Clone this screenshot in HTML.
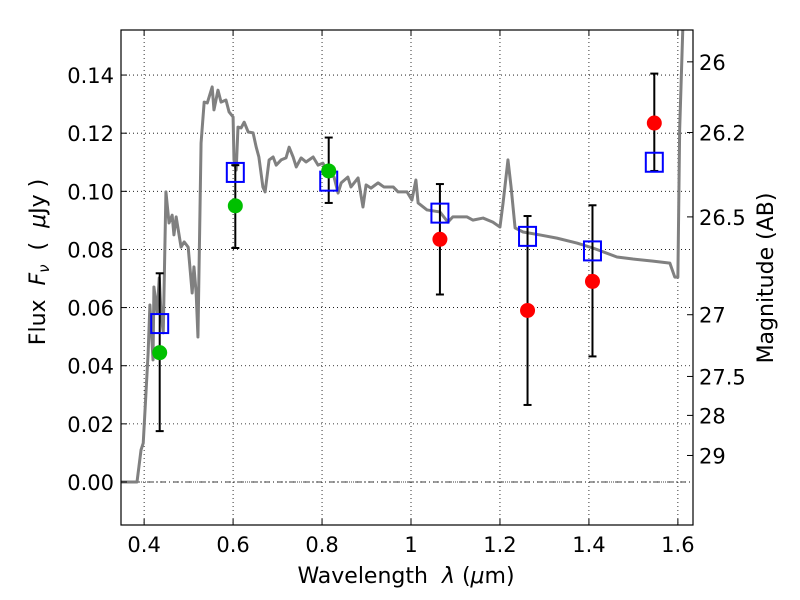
<!DOCTYPE html>
<html><head><meta charset="utf-8"><style>
body{margin:0;background:#fff}
svg{display:block;font-family:"DejaVu Sans","Liberation Sans",sans-serif}
</style></head><body>
<svg id="chart" width="800" height="600" viewBox="0 0 800 600" xmlns="http://www.w3.org/2000/svg">
<rect x="0" y="0" width="800" height="600" fill="#fff"/>
<g id="grid"></g>
<g id="spec"></g>
<g id="marks"></g>
<rect x="121" y="30" width="572" height="495" fill="none" stroke="#000" stroke-width="1.2"/>
<g id="axes"></g>
<text x="406" y="583" font-size="22" text-anchor="middle" xml:space="preserve">Wavelength  <tspan font-style="italic">λ</tspan> (<tspan font-style="italic">μ</tspan>m)</text>
<text transform="translate(45,262) rotate(-90)" font-size="22" text-anchor="middle" xml:space="preserve">Flux  <tspan font-style="italic">F</tspan><tspan font-style="italic" font-size="15" dy="4">ν</tspan><tspan dy="-4">  (  </tspan><tspan font-style="italic">μ</tspan>Jy )</text>
<text transform="translate(773,278) rotate(-90)" font-size="22" text-anchor="middle">Magnitude (AB)</text>
</svg>
<script>
const xTicks=[0.4,0.6,0.8,1.0,1.2,1.4,1.6];
const xTickLabels=["0.4","0.6","0.8","1","1.2","1.4","1.6"];
const yTicks=[0,0.02,0.04,0.06,0.08,0.10,0.12,0.14];
const yTickLabels=["0.00","0.02","0.04","0.06","0.08","0.10","0.12","0.14"];
const magTicks=[26,26.2,26.5,27,27.5,28,29];
const magTickLabels=["26","26.2","26.5","27","27.5","28","29"];
const specLam=[0.348,0.384,0.393,0.398,0.409,0.413,0.420,0.422,0.429,0.434,0.438,0.443,0.449,0.456,0.463,0.467,0.472,0.483,0.490,0.499,0.508,0.512,0.517,0.521,0.528,0.535,0.542,0.546,0.553,0.557,0.566,0.573,0.584,0.591,0.600,0.602,0.607,0.611,0.618,0.625,0.634,0.645,0.652,0.658,0.667,0.672,0.681,0.690,0.697,0.708,0.719,0.726,0.735,0.742,0.753,0.764,0.780,0.791,0.802,0.813,0.827,0.836,0.843,0.858,0.865,0.881,0.892,0.899,0.910,0.926,0.939,0.960,0.971,0.991,1.002,1.011,1.016,1.036,1.065,1.083,1.094,1.126,1.139,1.162,1.184,1.200,1.207,1.218,1.225,1.234,1.252,1.290,1.328,1.373,1.409,1.463,1.499,1.544,1.582,1.593,1.600,1.604,1.611,1.613];
const specFlux=[0,0,0.011,0.0134,0.0444,0.0609,0.042,0.0671,0.0581,0.0702,0.0581,0.0513,0.0998,0.0891,0.0918,0.085,0.0912,0.0808,0.0826,0.0808,0.065,0.074,0.065,0.0499,0.1166,0.1307,0.1304,0.1324,0.1359,0.128,0.1348,0.1307,0.1314,0.1273,0.1256,0.1108,0.1073,0.1221,0.1218,0.1238,0.1204,0.1201,0.1152,0.1118,0.1015,0.0998,0.1108,0.1118,0.109,0.1108,0.1115,0.1152,0.1118,0.1084,0.1115,0.1101,0.1118,0.109,0.1097,0.1063,0.1049,0.0994,0.1029,0.1049,0.1015,0.1046,0.0946,0.1022,0.1011,0.1029,0.1015,0.1015,0.0998,0.0998,0.097,0.1039,0.096,0.0936,0.0929,0.0894,0.0912,0.0912,0.0901,0.0908,0.0894,0.0877,0.096,0.1108,0.1015,0.0874,0.086,0.085,0.0839,0.0822,0.0805,0.0774,0.0767,0.076,0.0753,0.0705,0.0705,0.1211,0.1555,0.17];
const obsLam=[0.435,0.605,0.815,1.065,1.262,1.408,1.547];
const obsFlux=[0.0445,0.095,0.107,0.0835,0.059,0.069,0.1235];
const obsLow=[0.0175,0.0805,0.096,0.0645,0.0265,0.0432,0.107];
const obsHigh=[0.0718,0.109,0.1185,0.1025,0.0915,0.0952,0.1405];
const obsColor=["#00c000","#00c000","#00c000","#ff0000","#ff0000","#ff0000","#ff0000"];
const modelFlux=[0.0545,0.1065,0.1035,0.0925,0.0845,0.0795,0.110];

const X0=121,X1=693,Y0=30,Y1=525,xmin=0.348,xmax=1.634,ymin=-0.0148,ymax=0.1555;
const sx=v=>X0+(v-xmin)/(xmax-xmin)*(X1-X0);
const sy=v=>Y1-(v-ymin)/(ymax-ymin)*(Y1-Y0);
const NS="http://www.w3.org/2000/svg";
function mk(tag,attrs,parent){const e=document.createElementNS(NS,tag);for(const k in attrs)e.setAttribute(k,attrs[k]);parent.appendChild(e);return e;}
const grid=document.getElementById('grid'),axes=document.getElementById('axes'),spec=document.getElementById('spec'),marks=document.getElementById('marks');

xTicks.forEach((t,i)=>{const x=sx(t);
 const g=mk('line',{x1:x,x2:x,y1:Y0,y2:Y1,stroke:'#000','stroke-width':0.8,'stroke-dasharray':'1,3'},grid);
 
 
 mk('line',{x1:x,x2:x,y1:Y1,y2:Y1-6,stroke:'#000'},axes);
 mk('line',{x1:x,x2:x,y1:Y0,y2:Y0+6,stroke:'#000'},axes);
 const tx=mk('text',{x:x,y:Y1+27,'font-size':21,'text-anchor':'middle'},axes);tx.textContent=xTickLabels[i];
 
 
});
yTicks.forEach((t,i)=>{const y=sy(t);
 const g=mk('line',{x1:X0,x2:X1,y1:y,y2:y,stroke:'#000','stroke-width':0.8,'stroke-dasharray':'1,3'},grid);
 
 
 mk('line',{x1:X0,x2:X0+6,y1:y,y2:y,stroke:'#000'},axes);
 const tx=mk('text',{x:X0-7,y:y+8,'font-size':21,'text-anchor':'end'},axes);tx.textContent=yTickLabels[i];
 
 
});
const z=mk('line',{x1:X0,x2:X1,y1:sy(0),y2:sy(0),stroke:'#000','stroke-width':0.8,'stroke-dasharray':'6,3,1,3'},grid);


magTicks.forEach((m,i)=>{const y=sy(Math.pow(10,(23.9-m)/2.5));
 mk('line',{x1:X1,x2:X1-6,y1:y,y2:y,stroke:'#000'},axes);
 const tx=mk('text',{x:X1+6,y:y+8,'font-size':21},axes);tx.textContent=magTickLabels[i];
 
 
});
const clip=mk('clipPath',{id:'pc'},document.getElementById('chart'));mk('rect',{x:X0,y:Y0,width:X1-X0,height:Y1-Y0},clip);
spec.setAttribute('clip-path','url(#pc)');
const pl=mk('polyline',{points:specLam.map((l,i)=>sx(l)+','+sy(specFlux[i])).join(' '),fill:'none',stroke:'#808080','stroke-width':3,'stroke-linejoin':'round'},spec);


obsLam.forEach((l,i)=>{const x=sx(l);
 const e=mk('g',{},marks);
 
 
 mk('line',{x1:x,x2:x,y1:sy(obsLow[i]),y2:sy(obsHigh[i]),stroke:'#000','stroke-width':2},e);
 mk('line',{x1:x-4,x2:x+4,y1:sy(obsLow[i]),y2:sy(obsLow[i]),stroke:'#000','stroke-width':2},e);
 mk('line',{x1:x-4,x2:x+4,y1:sy(obsHigh[i]),y2:sy(obsHigh[i]),stroke:'#000','stroke-width':2},e);
});
obsLam.forEach((l,i)=>{
 const s=mk('rect',{x:sx(l)-8.5,y:sy(modelFlux[i])-9.5,width:17,height:19,fill:'none',stroke:'#0000ff','stroke-width':2},marks);
 
 
 const c=mk('circle',{cx:sx(l),cy:sy(obsFlux[i]),r:7.5,fill:obsColor[i]},marks);
 
 
});
</script>
</body></html>
